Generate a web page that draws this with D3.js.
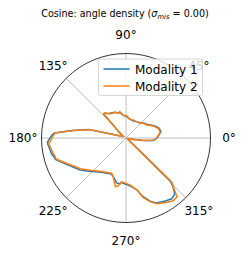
<!DOCTYPE html>
<html>
<head>
<meta charset="utf-8">
<script src="https://cdn.jsdelivr.net/npm/d3@7"></script>
<style>
  body { margin: 0; background: #fff; }
  text { font-family: "DejaVu Sans", sans-serif; }
</style>
</head>
<body>
<script>
// angle (degrees, counter-clockwise from east) and density radius per modality
const angles = [0, 5, 10, 16, 21, 28, 32, 41, 46, 56, 67, 80, 87, 97, 103, 107, 113, 123, 130, 133,
                155, 167, 172, 176, 178, 183, 184, 192, 197, 203, 214, 222, 234, 248, 253, 256, 258,
                261, 263, 264, 271, 275, 278, 282, 284, 286, 291, 295, 302, 307, 311, 314, 316, 330,
                352, 355, 360];
const modality1 = [0.37, 0.39, 0.42, 0.41, 0.38, 0.33, 0.30, 0.27, 0.25, 0.23, 0.22, 0.23, 0.25, 0.27, 0.31, 0.31, 0.33, 0.35, 0.38, 0.39,
                   0.04, 0.45, 0.64, 0.85, 0.88, 0.93, 0.93, 0.90, 0.87, 0.78, 0.67, 0.59, 0.50, 0.46, 0.49, 0.52, 0.54,
                   0.55, 0.54, 0.53, 0.55, 0.57, 0.59, 0.63, 0.67, 0.72, 0.80, 0.85, 0.88, 0.90, 0.88, 0.80, 0.73, 0.02,
                   0.21, 0.33, 0.37];
const modality2 = [0.36, 0.385, 0.41, 0.40, 0.37, 0.32, 0.29, 0.27, 0.24, 0.23, 0.23, 0.23, 0.26, 0.27, 0.32, 0.31, 0.33, 0.34, 0.39, 0.39,
                   0.04, 0.44, 0.63, 0.84, 0.86, 0.90, 0.92, 0.88, 0.86, 0.765, 0.65, 0.57, 0.49, 0.45, 0.50, 0.556, 0.59,
                   0.57, 0.545, 0.52, 0.54, 0.56, 0.586, 0.63, 0.68, 0.73, 0.81, 0.86, 0.90, 0.93, 0.92, 0.81, 0.75, 0.02,
                   0.21, 0.32, 0.36];
const seriesNames = ["Modality 1", "Modality 2"];
const colors = ["#1f77b4", "#ff7f0e"];
const tickAngles = [0, 45, 90, 135, 180, 225, 270, 315];

const width = 244, height = 255;
const cx = 126, cy = 138, radius = 84.5;

const svg = d3.select("body").append("svg")
  .attr("width", width)
  .attr("height", height);

const r = d3.scaleLinear().domain([0, 1]).range([0, radius]);
const toRad = d => (90 - d) * Math.PI / 180;  // d3 angles run clockwise from north

const g = svg.append("g").attr("transform", `translate(${cx},${cy})`);

// angular grid lines
g.selectAll(".grid")
  .data(tickAngles)
  .join("line")
    .attr("class", "grid")
    .attr("x1", 0).attr("y1", 0)
    .attr("x2", d => r(1) * Math.sin(toRad(d)))
    .attr("y2", d => -r(1) * Math.cos(toRad(d)))
    .attr("stroke", "#b0b0b0")
    .attr("stroke-width", 0.8);

// outer spine
g.append("circle")
  .attr("r", r(1))
  .attr("fill", "none")
  .attr("stroke", "#000")
  .attr("stroke-width", 0.8);

// tick labels
g.selectAll(".tick")
  .data(tickAngles)
  .join("text")
    .attr("class", "tick")
    .attr("x", d => 103 * Math.sin(toRad(d)))
    .attr("y", d => -103 * Math.cos(toRad(d)))
    .attr("dy", "0.36em")
    .attr("text-anchor", "middle")
    .style("font-size", "12px")
    .text(d => d + "°");

const line = d3.lineRadial()
  .angle(d => toRad(d[0]))
  .radius(d => r(d[1]));

[modality1, modality2].forEach(function(vals, i) {
  g.append("path")
    .datum(angles.map((a, j) => [a, vals[j]]))
    .attr("d", line)
    .attr("fill", "none")
    .attr("stroke", colors[i])
    .attr("stroke-width", 1.5)
    .attr("stroke-linejoin", "round");
});

// title
const title = svg.append("text")
  .attr("x", 125)
  .attr("y", 17)
  .attr("text-anchor", "middle")
  .style("font-size", "9.6px");
title.append("tspan").text("Cosine: angle density (");
title.append("tspan").style("font-style", "italic").text("σ");
title.append("tspan").attr("dy", 2).style("font-style", "italic").style("font-size", "6.8px").text("mis");
title.append("tspan").attr("dy", -2).text(" = 0.00)");

// legend
const legend = svg.append("g").attr("transform", "translate(98.5,59)");
legend.append("rect")
  .attr("width", 104)
  .attr("height", 36.5)
  .attr("rx", 2)
  .attr("fill", "#fff")
  .attr("fill-opacity", 0.8)
  .attr("stroke", "#cccccc")
  .attr("stroke-width", 0.8);

const item = legend.selectAll(".item")
  .data(seriesNames)
  .join("g")
    .attr("class", "item")
    .attr("transform", (d, i) => `translate(0,${10 + i * 17})`);

item.append("line")
  .attr("x1", 5).attr("x2", 31)
  .attr("stroke", (d, i) => colors[i])
  .attr("stroke-width", 1.5);

item.append("text")
  .attr("x", 36.5)
  .attr("y", 5)
  .style("font-size", "12px")
  .text(d => d);
</script>
</body>
</html>
